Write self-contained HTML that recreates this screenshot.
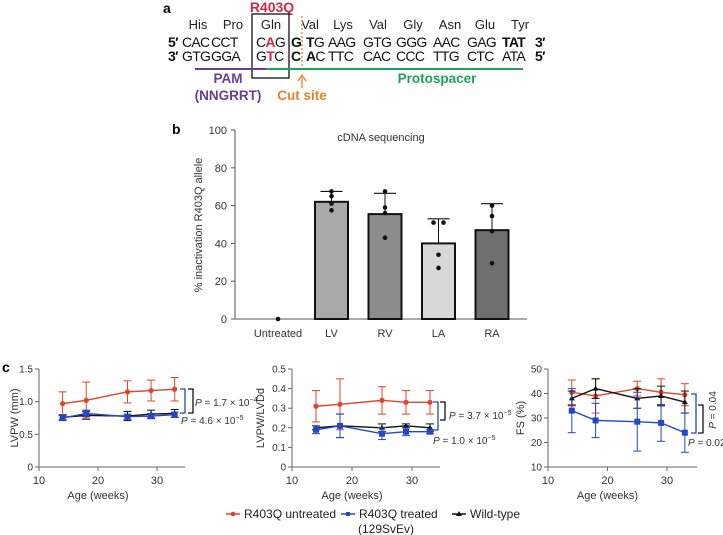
<!DOCTYPE html>
<html><head><meta charset="utf-8">
<style>
html,body{margin:0;padding:0;background:#fff;}
svg{display:block;font-family:"Liberation Sans",sans-serif;}
</style></head>
<body>
<svg id="fig" width="723" height="535" viewBox="0 0 723 535">
<!-- Panel a -->
<g id="panelA">
  <text x="163" y="13" font-size="14" font-weight="bold">a</text>
  <text x="272" y="12" font-size="14" font-weight="bold" fill="#d7263d" text-anchor="middle">R403Q</text>
  <g font-size="13" fill="#222" text-anchor="middle">
    <text x="198" y="29">His</text><text x="233" y="29">Pro</text><text x="271" y="29">Gln</text>
    <text x="310" y="29">Val</text><text x="343" y="29">Lys</text><text x="378" y="29">Val</text>
    <text x="413" y="29">Gly</text><text x="450" y="29">Asn</text><text x="485" y="29">Glu</text><text x="520" y="29">Tyr</text>
  </g>
  <g id="seq1" font-size="14" letter-spacing="-0.7" fill="#111"></g>
  <g id="seq2" font-size="14" letter-spacing="-0.7" fill="#111"></g>
  <rect x="252" y="14" width="37" height="64" fill="none" stroke="#111" stroke-width="1.3"/>
  <line x1="302" y1="16" x2="302" y2="66" stroke="#e8822a" stroke-width="1.3" stroke-dasharray="2,2"/>
  <line x1="195" y1="69" x2="266" y2="69" stroke="#6a3d9a" stroke-width="2"/>
  <line x1="266" y1="69" x2="523" y2="69" stroke="#1fa35a" stroke-width="2"/>
  <text x="228" y="83" font-size="13.5" font-weight="bold" fill="#6a3d9a" text-anchor="middle">PAM</text>
  <text x="228" y="100" font-size="13.5" font-weight="bold" fill="#6a3d9a" text-anchor="middle">(NNGRRT)</text>
  <text x="437" y="83" font-size="13.5" font-weight="bold" fill="#1fa35a" text-anchor="middle">Protospacer</text>
  <line x1="302" y1="88" x2="302" y2="77" stroke="#e8822a" stroke-width="1.3"/>
  <path d="M298,81 L302,75 L306,81" fill="none" stroke="#e8822a" stroke-width="1.3"/>
  <text x="302" y="100" font-size="13.5" font-weight="bold" fill="#e8822a" text-anchor="middle">Cut site</text>
</g>
<g id="panelB"></g>
<g id="panelC"></g>
<g id="legend" font-size="12" fill="#222">
  <g>
    <line x1="226" y1="514" x2="240" y2="514" stroke="#e0452b" stroke-width="1.5"/><circle cx="233" cy="514" r="2.3" fill="#e0452b"/>
    <text x="244" y="518">R403Q untreated</text></g>
  <g>
    <line x1="341" y1="514" x2="355" y2="514" stroke="#2446c9" stroke-width="1.5"/><rect x="346" y="512" width="4" height="4" fill="#2446c9"/>
    <text x="359" y="518">R403Q treated</text><text x="358" y="533">(129SvEv)</text></g>
  <g>
    <line x1="452" y1="514" x2="466" y2="514" stroke="#111" stroke-width="1.5"/><path d="M459,511 L462,516 L456,516Z" fill="#111"/>
    <text x="470" y="518">Wild-type</text></g>
</g>
</svg>
<script>
const NS="http://www.w3.org/2000/svg";
function mk(parent,tag,attrs,text){const e=document.createElementNS(NS,tag);for(const k in attrs)e.setAttribute(k,attrs[k]);if(text!==undefined)e.textContent=text;parent.appendChild(e);return e;}

// ===== Panel a sequence segments =====
const segX=[168,182,211,256,291,306,328,363,396,433,467,502,535];
const seq1=[["5′",1],["CAC",0],["CCT",0],["C|A|G",0],["G",1],["T|G",0],["AAG",0],["GTG",0],["GGG",0],["AAC",0],["GAG",0],["TAT",1],["3′",1]];
const seq2=[["3′",1],["GTG",0],["GGA",0],["G|T|C",0],["C",1],["A|C",0],["TTC",0],["CAC",0],["CCC",0],["TTG",0],["CTC",0],["ATA",0],["5′",1]];
function drawSeq(id,arr,y){
  const g=document.getElementById(id);
  arr.forEach((s,i)=>{
    const t=mk(g,'text',{x:segX[i],y:y});
    if(s[1])t.setAttribute('font-weight','bold');
    if(s[0].includes('|')){
      const p=s[0].split('|');
      if(i===3){mk(t,'tspan',{},p[0]);mk(t,'tspan',{fill:'#d7263d','font-weight':'bold'},p[1]);mk(t,'tspan',{},p[2]);}
      else {mk(t,'tspan',{'font-weight':'bold'},p[0]);mk(t,'tspan',{},p[1]);}
    } else t.textContent=s[0];
  });
}
drawSeq('seq1',seq1,47);
drawSeq('seq2',seq2,61);

// ===== Panel b data =====
const barCategories=["Untreated","LV","RV","LA","RA"];
const barMeans=[0,62,55.5,40,47];
const barSdTop=[0,67.5,66.5,53,61];
const barPoints=[[0],[67.5,65,61,57.5],[67.5,59,56,43],[51,51,34,27],[60,54.5,46.5,29.5]];
const barYTicks=[0,20,40,60,80,100];

// ===== Panel c data =====
const ageWeeks=[14,18,25,29,33];
const lvpwUntreated=[0.97,1.02,1.15,1.17,1.19];
const lvpwUntreatedErr=[0.18,0.28,0.17,0.16,0.18];
const lvpwTreated=[0.75,0.82,0.77,0.78,0.80];
const lvpwTreatedErr=[0.04,0.05,0.04,0.04,0.04];
const lvpwWild=[0.76,0.79,0.78,0.81,0.82];
const lvpwWildErr=[0.04,0.06,0.07,0.06,0.06];
const ratioUntreated=[0.31,0.32,0.34,0.33,0.33];
const ratioUntreatedErr=[0.08,0.13,0.07,0.06,0.06];
const ratioTreated=[0.19,0.21,0.17,0.18,0.18];
const ratioTreatedErr=[0.02,0.06,0.03,0.02,0.01];
const ratioWild=[0.20,0.21,0.20,0.21,0.20];
const ratioWildErr=[0.01,0.06,0.02,0.01,0.02];
const fsUntreated=[40.5,39,42,40.5,39.5];
const fsUntreatedErr=[5,7,3,5.5,4.5];
const fsWild=[38,42,38,39,36.5];
const fsWildErr=[3,4,4,4,4.5];
const fsTreated=[33,29,28.5,28,24];
const fsTreatedErr=[9,7,12,7.5,8];
const ageTicks=[10,20,30];
const lvpwTicks=[0,0.5,1.0,1.5];
const ratioTicks=[0,0.1,0.2,0.3,0.4,0.5];
const fsTicks=[10,20,30,40,50];

// ===== Draw panel b =====
(function(){
  const g=document.getElementById('panelB');
  const x0=235,xEnd=527,yTop=130,yBot=319;
  const y=v=>yBot-(v/100)*(yBot-yTop);
  const cx=i=>278+i*53.5;
  const colors=["#fff","#a9a9a9","#8d8d8d","#d8d8d8","#6f6f6f"];
  mk(g,'text',{x:172,y:134,'font-size':14,'font-weight':'bold'},'b');
  mk(g,'line',{x1:x0,y1:yTop,x2:x0,y2:yBot,stroke:'#555','stroke-width':1});
  mk(g,'line',{x1:x0,y1:yBot,x2:xEnd,y2:yBot,stroke:'#555','stroke-width':1});
  barYTicks.forEach(t=>{
    mk(g,'line',{x1:x0-4,y1:y(t),x2:x0,y2:y(t),stroke:'#555'});
    mk(g,'text',{x:x0-8,y:y(t)+4,'font-size':11,'text-anchor':'end',fill:'#333'},t);
  });
  mk(g,'text',{transform:'translate(202,225) rotate(-90)','font-size':11,'text-anchor':'middle',fill:'#333'},'% inactivation R403Q allele');
  mk(g,'text',{x:381,y:141,'font-size':11,'text-anchor':'middle',fill:'#333'},'cDNA sequencing');
  barCategories.forEach((c,i)=>{
    const bw=33;
    if(barMeans[i]>0){
      const r=mk(g,'rect',{x:cx(i)-bw/2,y:y(barMeans[i]),width:bw,height:yBot-y(barMeans[i]),fill:colors[i],stroke:'#111','stroke-width':2});
      
      
      mk(g,'line',{x1:cx(i),y1:y(barMeans[i]),x2:cx(i),y2:y(barSdTop[i]),stroke:'#111','stroke-width':1});
      mk(g,'line',{x1:cx(i)-11,y1:y(barSdTop[i]),x2:cx(i)+11,y2:y(barSdTop[i]),stroke:'#111','stroke-width':1.2});
    }
    barPoints[i].forEach((p,j)=>{
      const off=(i===3&&j<2)?(j===0?-5:5):0;
      mk(g,'circle',{cx:cx(i)+off,cy:y(p),r:2.3,fill:'#111'});
    });
    mk(g,'text',{x:cx(i),y:337,'font-size':11,'text-anchor':'middle',fill:'#333'},c);
  });
})();

// ===== Draw panel c =====
function lineChart(o){
  const g=mk(document.getElementById('panelC'),'g',{});
  
  
  const yBot=467,yTop=369;
  const xs=v=>o.ax+(v-10)*(o.bx-o.ax)/10;
  const ys=v=>yBot-(v-o.ymin)/(o.ymax-o.ymin)*(yBot-yTop);
  mk(g,'line',{x1:o.ax,y1:yTop,x2:o.ax,y2:yBot,stroke:'#666'});
  mk(g,'line',{x1:o.ax,y1:yBot,x2:o.xend,y2:yBot,stroke:'#666'});
  o.yticks.forEach(t=>{
    mk(g,'line',{x1:o.ax-4,y1:ys(t),x2:o.ax,y2:ys(t),stroke:'#666'});
    mk(g,'text',{x:o.ax-6,y:ys(t)+3.5,'font-size':10,'text-anchor':'end',fill:'#333'},o.fmt(t));
  });
  ageTicks.forEach(t=>{
    mk(g,'line',{x1:xs(t),y1:yBot,x2:xs(t),y2:yBot+4,stroke:'#666'});
    mk(g,'text',{x:xs(t),y:484,'font-size':11,'text-anchor':'middle',fill:'#333'},t);
  });
  mk(g,'text',{x:xs(20),y:499,'font-size':11,'text-anchor':'middle',fill:'#333'},'Age (weeks)');
  mk(g,'text',{transform:`translate(${o.ax-o.lo},418) rotate(-90)`,'font-size':11,'text-anchor':'middle',fill:'#333'},o.ylabel);
  o.series.forEach(s=>{
    const sg=mk(g,'g',{});
    
    
    ageWeeks.forEach((a,i)=>{
      const X=xs(a);
      mk(sg,'line',{x1:X,y1:ys(s.v[i]-s.e[i]),x2:X,y2:ys(s.v[i]+s.e[i]),stroke:s.c,'stroke-width':1});
      [s.v[i]-s.e[i],s.v[i]+s.e[i]].forEach(v=>mk(sg,'line',{x1:X-4,y1:ys(v),x2:X+4,y2:ys(v),stroke:s.c,'stroke-width':1}));
    });
    mk(sg,'polyline',{points:ageWeeks.map((a,i)=>xs(a)+','+ys(s.v[i])).join(' '),fill:'none',stroke:s.c,'stroke-width':1.4});
    ageWeeks.forEach((a,i)=>{
      const X=xs(a),Y=ys(s.v[i]);
      if(s.m==='c')mk(sg,'circle',{cx:X,cy:Y,r:2.6,fill:s.c});
      else if(s.m==='s')mk(sg,'rect',{x:X-3,y:Y-3,width:6,height:6,fill:s.c});
      else mk(sg,'path',{d:`M${X},${Y-3} L${X+3},${Y+2} L${X-3},${Y+2}Z`,fill:s.c});
    });
  });
  return g;
}
const R="#e0452b",B="#2446c9",K="#111";
lineChart({name:'lvpw-chart',ax:39,bx:98,xend:185,lo:21,ymin:0,ymax:1.5,yticks:lvpwTicks,fmt:t=>t===0?'0':t.toFixed(1),ylabel:'LVPW (mm)',
  series:[{name:'lvpw-wild-type',v:lvpwWild,e:lvpwWildErr,c:K,m:'t'},{name:'lvpw-untreated',v:lvpwUntreated,e:lvpwUntreatedErr,c:R,m:'c'},{name:'lvpw-treated',v:lvpwTreated,e:lvpwTreatedErr,c:B,m:'s'}]});
lineChart({name:'lvpw-lvdd-chart',ax:292,bx:352,xend:440,lo:28,ymin:0,ymax:0.5,yticks:ratioTicks,fmt:t=>t===0?'0':t.toFixed(1),ylabel:'LVPW/LVDd',
  series:[{name:'ratio-wild-type',v:ratioWild,e:ratioWildErr,c:K,m:'t'},{name:'ratio-untreated',v:ratioUntreated,e:ratioUntreatedErr,c:R,m:'c'},{name:'ratio-treated',v:ratioTreated,e:ratioTreatedErr,c:B,m:'s'}]});
lineChart({name:'fs-chart',ax:548,bx:607.5,xend:697,lo:24,ymin:10,ymax:50,yticks:fsTicks,fmt:t=>String(t),ylabel:'FS (%)',
  series:[{name:'fs-untreated',v:fsUntreated,e:fsUntreatedErr,c:R,m:'c'},{name:'fs-wild-type',v:fsWild,e:fsWildErr,c:K,m:'t'},{name:'fs-treated',v:fsTreated,e:fsTreatedErr,c:B,m:'s'}]});

// annotations
(function(){
  const g=document.getElementById('panelC');
  mk(g,'text',{x:2,y:372,'font-size':14,'font-weight':'bold'},'c');
  function br(x,y1,y2,c){mk(g,'path',{d:`M${x-5},${y1} L${x},${y1} L${x},${y2} L${x-5},${y2}`,fill:'none',stroke:c,'stroke-width':1.3});}
  function pt(x,y,txt,exp){const t=mk(g,'text',{x:x,y:y,'font-size':10,fill:'#333'});
    mk(t,'tspan',{'font-style':'italic'},'P');mk(t,'tspan',{},' = '+txt);
    if(exp){mk(t,'tspan',{dy:-4,'font-size':7},exp);}}
  br(185,389,413,B); br(193,389,413,K);
  pt(195,406,'1.7 × 10','−4'); pt(181,424,'4.6 × 10','−5');
  br(438,402,430,B); br(445,402,420,K);
  pt(449,419,'3.7 × 10','−5'); pt(433,444,'1.0 × 10','−5');
  br(696,394,433,B); br(703,405,433,K);
  const t=mk(g,'text',{transform:'translate(716,410) rotate(-90)','font-size':10,'text-anchor':'middle',fill:'#333'});
  mk(t,'tspan',{'font-style':'italic'},'P');mk(t,'tspan',{},' = 0.04');
  pt(688,446,'0.02');
})();
</script>
</body></html>
